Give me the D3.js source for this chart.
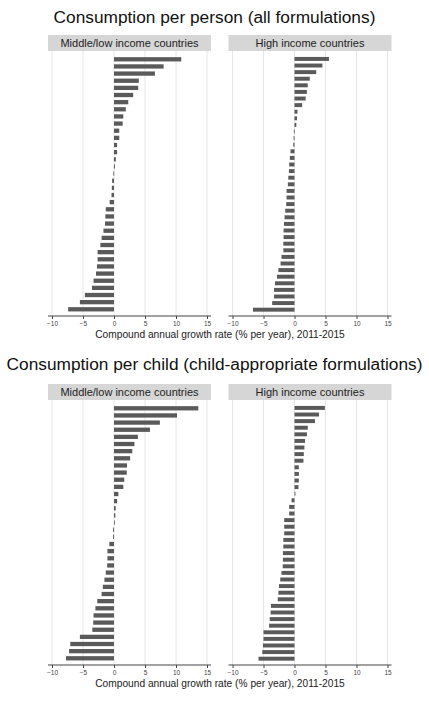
<!DOCTYPE html>
<html>
<head>
<meta charset="utf-8">
<script src="https://cdn.jsdelivr.net/npm/d3@7"></script>
<style>
  body { margin: 0; background: #fff; }
  svg { font-family: "Liberation Sans", Arial, sans-serif; }
</style>
</head>
<body>
<div id="chart"></div>
<script>
// Data (compound annual growth rate, % per year)
var sectionTitles = ["Consumption per person (all formulations)", "Consumption per child (child-appropriate formulations)"];
var panelTitles = ["Middle/low income countries", "High income countries"];
var axisTitle = "Compound annual growth rate (% per year), 2011-2015";
var tickValues = [-10, -5, 0, 5, 10, 15];

var personLow = [10.85, 8.0, 6.6, 4.0, 3.9, 3.1, 2.3, 1.9, 1.5, 1.4, 0.85, 0.85, 0.5, 0.5, 0.3, 0.15, -0.1,
  -0.3, -0.35, -0.4, -0.7, -1.33, -1.4, -1.45, -1.7, -2.0, -2.2, -2.65, -2.65, -2.75, -2.9, -3.3, -3.55, -4.7, -5.5, -7.4];
var personHigh = [5.56, 4.5, 3.5, 2.46, 2.14, 2.0, 1.8, 1.23, 0.48, 0.4, 0.3, -0.1, -0.15, -0.2, -0.64, -0.75, -0.86, -0.9, -1.0,
  -1.07, -1.28, -1.28, -1.34, -1.5, -1.6, -1.7, -1.76, -1.76, -1.8, -1.8, -2.1, -2.25, -2.6, -2.83, -3.15, -3.3, -3.3, -3.6, -6.7];
var childLow = [13.6, 10.16, 7.4, 5.8, 3.85, 3.3, 2.95, 2.6, 2.1, 2.05, 1.65, 1.5, 0.7, 0.5, 0.28, 0.22, 0.05,
  -0.15, -0.15, -0.75, -1.06, -1.06, -1.1, -1.33, -1.54, -1.8, -2.0, -2.7, -3.0, -3.3, -3.35, -3.5, -5.5, -7.05, -7.25, -7.75];
var childHigh = [4.9, 3.96, 3.3, 2.14, 2.0, 1.7, 1.6, 1.5, 1.44, 0.7, 0.7, 0.7, 0.64, 0.15, -0.48, -0.86, -0.86, -1.66, -1.66, -1.66,
  -1.8, -1.8, -1.87, -1.87, -1.9, -2.1, -2.3, -2.5, -2.6, -2.7, -3.8, -3.85, -4.0, -4.1, -5.0, -5.0, -5.1, -5.2, -5.8];

var sections = [[personLow, personHigh], [childLow, childHigh]];

// Layout
var width = 429, height = 705;
var rowOffset = 349;
var panelX = [48, 228.5];
var panelW = 163;
var headerTop = 35, headerH = 16;
var barTop = 54.3, barBottom = 314.3;
var axisY = 316;

var svg = d3.select("#chart")
  .append("svg")
  .attr("width", width)
  .attr("height", height);

sections.forEach(function (pair, r) {
  var g = svg.append("g").attr("transform", "translate(0," + (r * rowOffset) + ")");

  // Section title
  g.append("text")
    .attr("x", width / 2)
    .attr("y", r === 0 ? 23 : 21)
    .attr("text-anchor", "middle")
    .style("font-size", "17.3px")
    .attr("fill", "#111")
    .text(sectionTitles[r]);

  pair.forEach(function (values, c) {
    var px = panelX[c];
    var p = g.append("g").attr("transform", "translate(" + px + ",0)");

    var x = d3.scaleLinear().domain([-10, 15]).range([4, panelW - 4]);
    var y = d3.scaleBand()
      .domain(d3.range(values.length))
      .range([barTop, barBottom])
      .padding(0.4);

    // Gridlines
    p.selectAll(".grid")
      .data(tickValues)
      .enter()
      .append("line")
      .attr("x1", function (d) { return x(d); })
      .attr("x2", function (d) { return x(d); })
      .attr("y1", headerTop + headerH)
      .attr("y2", axisY)
      .attr("stroke", "#e6e6e6")
      .attr("stroke-width", 1);

    // Panel header
    p.append("rect")
      .attr("x", 0)
      .attr("y", headerTop)
      .attr("width", panelW)
      .attr("height", headerH)
      .attr("fill", "#d6d6d6");
    p.append("text")
      .attr("x", panelW / 2)
      .attr("y", headerTop + headerH / 2)
      .attr("dy", "0.36em")
      .attr("text-anchor", "middle")
      .style("font-size", "11px")
      .attr("fill", "#222")
      .text(panelTitles[c]);

    // Bars
    p.selectAll(".bar")
      .data(values)
      .enter()
      .append("rect")
      .attr("class", "bar")
      .attr("x", function (d) { return x(Math.min(0, d)); })
      .attr("y", function (d, i) { return y(i); })
      .attr("width", function (d) { return Math.max(0.8, Math.abs(x(d) - x(0))); })
      .attr("height", y.bandwidth())
      .attr("fill", "#5a5a5a");

    // X axis
    var axis = p.append("g")
      .attr("transform", "translate(0," + axisY + ")")
      .call(d3.axisBottom(x).tickValues(tickValues).tickSize(3).tickPadding(2));
    axis.select(".domain").attr("d", "M0,0H" + panelW).attr("stroke", "#444");
    axis.selectAll(".tick line").attr("stroke", "#444");
    axis.selectAll(".tick text")
      .attr("fill", "#444")
      .style("font-size", "6.5px")
      .style("font-family", "'Liberation Sans', Arial, sans-serif");
  });

  // Axis title
  g.append("text")
    .attr("x", 220)
    .attr("y", axisY + 18.5)
    .attr("dy", "0.35em")
    .attr("text-anchor", "middle")
    .style("font-size", "10.2px")
    .attr("fill", "#222")
    .text(axisTitle);
});
</script>
</body>
</html>
